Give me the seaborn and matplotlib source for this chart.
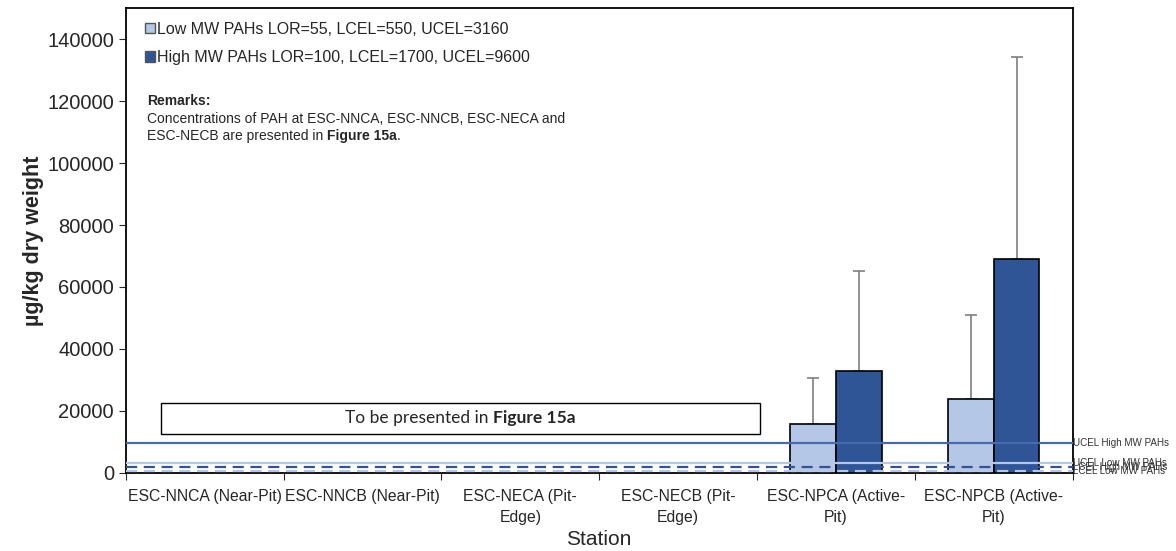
import numpy as np
import pandas as pd
import matplotlib
matplotlib.use("Agg")
import matplotlib.pyplot as plt
from matplotlib.offsetbox import TextArea, HPacker, AnnotationBbox
import seaborn as sns

# Station categories and concentrations (µg/kg dry weight)
stations = [
    "ESC-NNCA (Near-Pit)",
    "ESC-NNCB (Near-Pit)",
    "ESC-NECA (Pit-\nEdge)",
    "ESC-NECB (Pit-\nEdge)",
    "ESC-NPCA (Active-\nPit)",
    "ESC-NPCB (Active-\nPit)",
]
series = [
    "Low MW PAHs LOR=55, LCEL=550, UCEL=3160",
    "High MW PAHs LOR=100, LCEL=1700, UCEL=9600",
]
low_mw = [np.nan, np.nan, np.nan, np.nan, 15800, 23900]
high_mw = [np.nan, np.nan, np.nan, np.nan, 32900, 69000]
low_mw_err = [np.nan, np.nan, np.nan, np.nan, 14900, 26900]
high_mw_err = [np.nan, np.nan, np.nan, np.nan, 32100, 65300]

# Sediment quality guideline levels
ucel_high, lcel_high = 9600, 1700
ucel_low, lcel_low = 3160, 550

light_blue = "#b4c7e7"
dark_blue = "#2f5597"

df = pd.DataFrame({
    "Station": stations * 2,
    "Series": [series[0]] * len(stations) + [series[1]] * len(stations),
    "Value": low_mw + high_mw,
})

sns.set_style("white")
plt.rcParams["font.family"] = ["Liberation Sans", "DejaVu Sans"]

fig, ax = plt.subplots(figsize=(11.76, 5.51), dpi=100)
fig.subplots_adjust(left=0.107, right=0.912, top=0.985, bottom=0.142)

width = 0.58
sns.barplot(data=df, x="Station", y="Value", hue="Series", order=stations,
            hue_order=series, palette=[light_blue, dark_blue], saturation=1,
            width=width, gap=0, dodge=True, edgecolor="black", linewidth=1.2,
            errorbar=None, ax=ax, zorder=3)

# Upper-only error bars
xpos = np.arange(len(stations))
for vals, errs, off in [(low_mw, low_mw_err, -width / 4), (high_mw, high_mw_err, width / 4)]:
    vals = np.array(vals, dtype=float)
    errs = np.array(errs, dtype=float)
    m = ~np.isnan(vals)
    ax.errorbar(xpos[m] + off, vals[m], yerr=[np.zeros(m.sum()), errs[m]],
                fmt="none", ecolor="#7f7f7f", elinewidth=1.2, capsize=4,
                capthick=1.2, zorder=2)

# Guideline lines
ax.axhline(ucel_high, color="#4a6aae", lw=1.6, zorder=4)
ax.axhline(ucel_low, color=light_blue, lw=1.6, zorder=4)
ax.axhline(lcel_high, color=dark_blue, lw=1.6, ls=(0, (5, 3)), zorder=4)
ax.axhline(lcel_low, color=light_blue, lw=1.6, ls=(0, (5, 3)), zorder=4)
for yv, lab in [(ucel_high, "UCEL High MW PAHs"), (ucel_low, "UCEL Low MW PAHs"),
                (lcel_high, "LCEL High MW PAHs"), (lcel_low, "LCEL Low MW PAHs")]:
    ax.text(1.0, yv, lab, transform=ax.get_yaxis_transform(), fontsize=7.1,
            va="center", ha="left", color="#333333", clip_on=False)

ax.set_ylim(0, 150000)
ax.set_xlim(-0.5, len(stations) - 0.5)
ax.set_yticks(np.arange(0, 140001, 20000))
ax.tick_params(axis="y", labelsize=14.5, length=5, direction="out", left=True)

# Category ticks sit on the group boundaries, labels at centres
ax.set_xticks(np.arange(-0.5, len(stations) + 0.5, 1.0))
ax.set_xticklabels([])
ax.set_xticks(xpos, minor=True)
ax.set_xticklabels(stations, minor=True, fontsize=11.3, linespacing=1.5)
ax.tick_params(axis="x", which="major", length=5, direction="out", bottom=True)
ax.tick_params(axis="x", which="minor", length=0, pad=12)

ax.set_xlabel("Station", fontsize=15, labelpad=3)
ax.set_ylabel("µg/kg dry weight", fontsize=15.5, fontweight="bold", labelpad=2)

for s in ax.spines.values():
    s.set_visible(True)
    s.set_color("black")
    s.set_linewidth(1.3)

leg = ax.legend(loc="upper left", bbox_to_anchor=(0.008, 0.995), frameon=False,
                fontsize=11.5, handlelength=0.65, handleheight=0.65,
                handletextpad=0.15, labelspacing=0.85, borderaxespad=0.3)
for h in leg.legend_handles:
    h.set_edgecolor("#555555")
    h.set_linewidth(1.0)

# Remarks block
rem_kw = dict(transform=ax.transAxes, fontsize=10, va="baseline", ha="left")
ax.text(0.022, 0.791, "Remarks:", fontweight="bold", **rem_kw)
ax.text(0.022, 0.753,
        "Concentrations of PAH at ESC-NNCA, ESC-NNCB, ESC-NECA and", **rem_kw)
t_last = ax.text(0.022, 0.717, "ESC-NECB are presented in ", **rem_kw)
t_fig = ax.annotate("Figure 15a", xy=(1, 0), xycoords=t_last, fontsize=10,
                    fontweight="bold", va="bottom", ha="left")
ax.annotate(".", xy=(1, 0), xycoords=t_fig, fontsize=10, va="bottom", ha="left")

# Placeholder box for the stations shown elsewhere
ax.add_patch(plt.Rectangle((-0.278, 12600), 3.80, 10000, facecolor="white",
                           edgecolor="black", lw=1.0, zorder=5))
box_font = ["Lato", "DejaVu Sans"]
pack = HPacker(children=[
    TextArea("To be presented in ", textprops=dict(fontsize=12.5, family=box_font)),
    TextArea("Figure 15a", textprops=dict(fontsize=12.5, family=box_font,
                                          fontweight="bold")),
], align="baseline", pad=0, sep=0)
ab = AnnotationBbox(pack, (-0.278 + 3.80 / 2, 17600), xycoords="data",
                    box_alignment=(0.5, 0.5), frameon=False, zorder=6)
ax.add_artist(ab)

fig.savefig("out.png", dpi=100)
